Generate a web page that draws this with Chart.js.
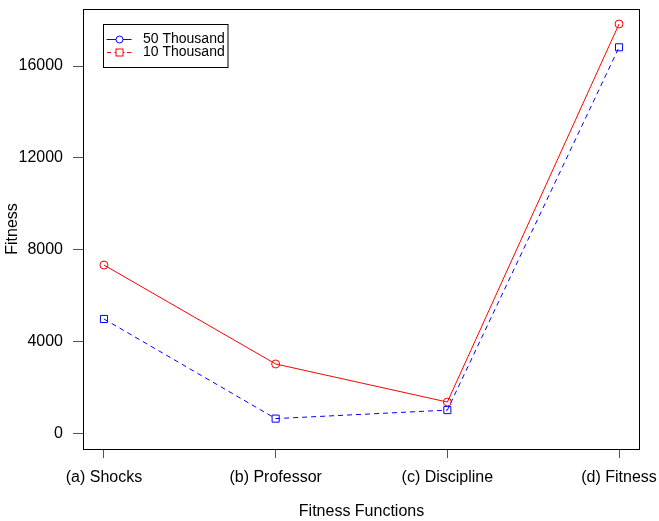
<!DOCTYPE html>
<html><head><meta charset="utf-8">
<script src="https://cdn.jsdelivr.net/npm/chart.js@4/dist/chart.umd.min.js"></script>
<style>html,body{margin:0;padding:0;background:#fff}#wrap{width:659px;height:521px}</style>
</head><body><div id="wrap"><canvas id="c" width="659" height="521"></canvas></div>
<script>
const categories = ["(a) Shocks", "(b) Professor", "(c) Discipline", "(d) Fitness"];
const seriesRed = [7330, 3020, 1360, 17830];
const seriesBlue = [4980, 640, 1010, 16815];
const yTickValues = [0, 4000, 8000, 12000, 16000];
const legendLabels = ["50 Thousand", "10 Thousand"];
const xTitle = "Fitness Functions";
const yTitle = "Fitness";

const FONT = "'Liberation Sans', Arial, Helvetica, sans-serif";
const RED = '#FF0000', BLUE = '#0000FF';

const toPoints = arr => arr.map((v, i) => ({x: i, y: v}));

const boxAndLegend = {
  id: 'boxAndLegend',
  afterDraw(chart) {
    const ctx = chart.ctx, a = chart.chartArea;
    ctx.save();
    ctx.strokeStyle = '#000';
    ctx.lineWidth = 1;
    ctx.setLineDash([]);
    ctx.strokeRect(Math.round(a.left) + 0.5, Math.round(a.top) + 0.5,
      Math.round(a.right - a.left) - 1, Math.round(a.bottom - a.top));
    // legend box
    const lx = 103.5, ly = 24.5, lw = 124.5, lh = 43;
    ctx.strokeRect(lx, ly, lw, lh);
    const rows = [39.5, 52.5];
    // row 1: blue solid line with circle
    ctx.strokeStyle = BLUE;
    ctx.beginPath(); ctx.moveTo(106.5, rows[0]); ctx.lineTo(131.5, rows[0]); ctx.stroke();
    ctx.beginPath(); ctx.arc(119.5, rows[0], 3.5, 0, Math.PI * 2); ctx.fillStyle = '#fff'; ctx.fill(); ctx.stroke();
    // row 2: red dashed with square
    ctx.strokeStyle = RED;
    ctx.beginPath(); ctx.moveTo(107, rows[1]); ctx.lineTo(111, rows[1]); ctx.stroke();
    ctx.beginPath(); ctx.moveTo(127, rows[1]); ctx.lineTo(131.5, rows[1]); ctx.stroke();
    ctx.beginPath(); ctx.moveTo(114.5, rows[1]); ctx.lineTo(124.5, rows[1]); ctx.stroke();
    ctx.fillStyle = '#fff';
    ctx.fillRect(116, rows[1] - 3.5, 7, 7);
    ctx.strokeRect(116, rows[1] - 3.5, 7, 7);
    ctx.fillStyle = '#000';
    ctx.font = "14px " + FONT;
    ctx.textBaseline = 'middle';
    ctx.textAlign = 'left';
    ctx.fillText(legendLabels[0], 143, rows[0]);
    ctx.fillText(legendLabels[1], 143, rows[1]);
    ctx.restore();
  }
};

new Chart(document.getElementById('c'), {
  type: 'line',
  data: {
    datasets: [
      {
        label: legendLabels[1],
        data: toPoints(seriesRed),
        borderColor: RED,
        borderWidth: 1,
        pointStyle: 'circle',
        pointRadius: 4,
        pointBorderWidth: 1,
        pointBorderColor: RED,
        pointBackgroundColor: 'rgba(0,0,0,0)',
        tension: 0
      },
      {
        label: legendLabels[0],
        data: toPoints(seriesBlue),
        borderColor: BLUE,
        borderWidth: 1,
        borderDash: [5, 4],
        pointStyle: 'rect',
        pointRadius: 5,
        pointBorderWidth: 1,
        pointBorderColor: BLUE,
        pointBackgroundColor: 'rgba(0,0,0,0)',
        tension: 0
      }
    ]
  },
  options: {
    responsive: false,
    animation: false,
    devicePixelRatio: 1,
    layout: {padding: {top: 9, right: 19, left: 0, bottom: 0}},
    plugins: {legend: {display: false}, tooltip: {enabled: false}},
    scales: {
      x: {
        type: 'linear',
        min: -0.122, max: 3.122,
        afterBuildTicks: s => { s.ticks = categories.map((_, i) => ({value: i})); },
        afterFit: s => { s.height = 72; s.paddingLeft = 0; s.paddingRight = 0; },
        ticks: {
          callback: v => categories[v],
          font: {family: FONT, size: 16},
          color: '#000',
          padding: 10,
          maxRotation: 0,
          autoSkip: false
        },
        grid: {drawOnChartArea: false, drawTicks: true, tickLength: 9, color: '#555', lineWidth: 1},
        border: {display: false},
        title: {display: true, text: xTitle, font: {family: FONT, size: 16}, color: '#000', padding: {top: 0, bottom: 0}}
      },
      y: {
        type: 'linear',
        min: -684, max: 18483,
        afterBuildTicks: s => { s.ticks = yTickValues.map(v => ({value: v})); },
        afterFit: s => { s.width = 83; s.paddingTop = 0; s.paddingBottom = 0; },
        ticks: {
          callback: v => String(v),
          font: {family: FONT, size: 16},
          color: '#000',
          padding: 10,
          autoSkip: false
        },
        grid: {drawOnChartArea: false, drawTicks: true, tickLength: 10, color: '#555', lineWidth: 1},
        border: {display: false},
        title: {display: true, text: yTitle, font: {family: FONT, size: 16}, color: '#000', padding: {top: 3, bottom: 0}}
      }
    }
  },
  plugins: [boxAndLegend]
});
</script>
</body></html>
